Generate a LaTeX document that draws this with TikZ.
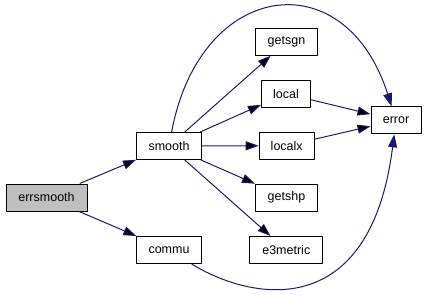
\documentclass[tikz,border=0pt]{standalone}
\usepackage{fontspec}
\setmainfont{Liberation Sans}
\usetikzlibrary{arrows.meta}

\definecolor{edgeblue}{RGB}{25,25,112}
\definecolor{rootgray}{RGB}{191,191,191}

\begin{document}
\begin{tikzpicture}[x=1pt, y=-1pt, line join=round,
    >={Triangle[length=13pt, width=9pt]},
    fn/.style={draw=black, line width=1pt, fill=white, minimum height=27pt,
      inner sep=0pt, font=\fontsize{12.5}{15}\selectfont},
    root/.style={fn, fill=rootgray},
    call/.style={->, draw=edgeblue, line width=1pt}]
    \useasboundingbox (0,0) rectangle (427,294);

    \node[root, minimum width=81pt] (errsmooth) at (46.5,197.5) {errsmooth};
    \node[fn, minimum width=65pt] (smooth) at (169,146) {smooth};
    \node[fn, minimum width=65pt] (commu) at (169,250) {commu};
    \node[fn, minimum width=62pt] (getsgn) at (286.5,41.7) {getsgn};
    \node[fn, minimum width=49pt] (local) at (286,93.7) {local};
    \node[fn, minimum width=55pt] (localx) at (286.7,145.7) {localx};
    \node[fn, minimum width=62pt] (getshp) at (286.5,197.5) {getshp};
    \node[fn, minimum width=73pt] (e3metric) at (286.3,250) {e3metric};
    \node[fn, minimum width=50pt] (error) at (396,120.3) {error};

    \path[call]
    (errsmooth) edge (smooth)
    (errsmooth) edge (commu)
    (smooth) edge (getsgn)
    (smooth) edge (local)
    (smooth) edge (localx)
    (smooth) edge (getshp)
    (smooth) edge (e3metric)
    (local) edge (error)
    (localx) edge (error);

    % the two long calls bend round the column of leaves
    \draw[call] (smooth) .. controls (200,-20) and (345,-40) .. (error);
    \draw[call] (commu) .. controls (250,300) and (370,325) .. (error);
\end{tikzpicture}
\end{document}
